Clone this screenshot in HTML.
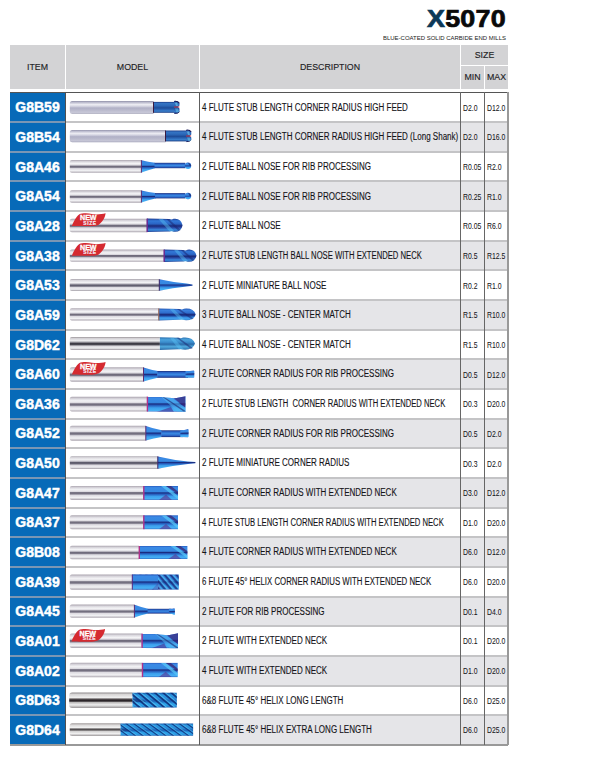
<!DOCTYPE html><html><head><meta charset="utf-8"><style>
*{margin:0;padding:0;box-sizing:border-box}
html,body{width:608px;height:772px;background:#fff;overflow:hidden}
body{position:relative;font-family:"Liberation Sans",sans-serif;color:#222}
.a{position:absolute}
.hd{background:#d3d3d5;}
.ht{position:absolute;font-size:8.8px;color:#1e1e26;-webkit-text-stroke:0.15px #1e1e26;text-align:center;white-space:nowrap;line-height:1}
.code{position:absolute;left:10px;width:55px;color:#fff;font-weight:bold;font-size:14px;text-align:center;line-height:1;white-space:nowrap;-webkit-text-stroke:0.45px #fff}
.desc{position:absolute;left:202px;font-size:10px;line-height:1;white-space:nowrap;transform-origin:0 0;transform:scaleX(0.802);color:#141418;-webkit-text-stroke:0.12px #141418}
.sz{position:absolute;font-size:8.8px;line-height:1;white-space:nowrap;transform-origin:0 0;transform:scaleX(0.78);color:#141418;-webkit-text-stroke:0.05px #141418}
</style></head><body>
<div class="a" style="left:427px;top:7px;font-size:24px;font-weight:bold;line-height:1;white-space:nowrap;letter-spacing:0.2px;transform-origin:0 0;transform:scaleX(1.12);-webkit-text-stroke:0.7px currentColor"><span style="color:#0c3858">X</span><span style="color:#0a0a0a">5070</span></div>
<div class="a" style="left:383px;top:35.3px;font-size:6.2px;transform-origin:0 0;transform:scaleX(0.965);line-height:1;white-space:nowrap;color:#222">BLUE-COATED SOLID CARBIDE END MILLS</div>
<div class="a hd" style="left:10px;top:45px;width:55px;height:44px"></div>
<div class="a hd" style="left:66px;top:45px;width:133px;height:44px"></div>
<div class="a hd" style="left:200px;top:45px;width:260px;height:44px"></div>
<div class="a hd" style="left:461px;top:45px;width:47px;height:20px"></div>
<div class="a hd" style="left:461px;top:66px;width:23px;height:23px"></div>
<div class="a hd" style="left:485px;top:66px;width:23px;height:23px"></div>
<div class="ht" style="left:10px;top:63px;width:55px">ITEM</div>
<div class="ht" style="left:66px;top:63px;width:133px">MODEL</div>
<div class="ht" style="left:200px;top:63px;width:260px">DESCRIPTION</div>
<div class="ht" style="left:461px;top:51px;width:47px">SIZE</div>
<div class="ht" style="left:461px;top:73px;width:23px">MIN</div>
<div class="ht" style="left:485px;top:73px;width:23px">MAX</div>
<div class="a" style="left:10px;top:92.50px;width:55px;height:29.65px;background:#076ab8"></div>
<div class="a" style="left:10px;top:122.15px;width:55px;height:29.65px;background:#076ab8"></div>
<div class="a" style="left:200px;top:122.15px;width:308px;height:29.65px;background:#e5e5e8"></div>
<div class="a" style="left:10px;top:151.80px;width:55px;height:29.65px;background:#076ab8"></div>
<div class="a" style="left:10px;top:181.45px;width:55px;height:29.65px;background:#076ab8"></div>
<div class="a" style="left:200px;top:181.45px;width:308px;height:29.65px;background:#e5e5e8"></div>
<div class="a" style="left:10px;top:211.10px;width:55px;height:29.65px;background:#076ab8"></div>
<div class="a" style="left:10px;top:240.75px;width:55px;height:29.65px;background:#076ab8"></div>
<div class="a" style="left:200px;top:240.75px;width:308px;height:29.65px;background:#e5e5e8"></div>
<div class="a" style="left:10px;top:270.40px;width:55px;height:29.65px;background:#076ab8"></div>
<div class="a" style="left:10px;top:300.05px;width:55px;height:29.65px;background:#076ab8"></div>
<div class="a" style="left:200px;top:300.05px;width:308px;height:29.65px;background:#e5e5e8"></div>
<div class="a" style="left:10px;top:329.70px;width:55px;height:29.65px;background:#076ab8"></div>
<div class="a" style="left:10px;top:359.35px;width:55px;height:29.65px;background:#076ab8"></div>
<div class="a" style="left:200px;top:359.35px;width:308px;height:29.65px;background:#e5e5e8"></div>
<div class="a" style="left:10px;top:389.00px;width:55px;height:29.65px;background:#076ab8"></div>
<div class="a" style="left:10px;top:418.65px;width:55px;height:29.65px;background:#076ab8"></div>
<div class="a" style="left:200px;top:418.65px;width:308px;height:29.65px;background:#e5e5e8"></div>
<div class="a" style="left:10px;top:448.30px;width:55px;height:29.65px;background:#076ab8"></div>
<div class="a" style="left:10px;top:477.95px;width:55px;height:29.65px;background:#076ab8"></div>
<div class="a" style="left:200px;top:477.95px;width:308px;height:29.65px;background:#e5e5e8"></div>
<div class="a" style="left:10px;top:507.60px;width:55px;height:29.65px;background:#076ab8"></div>
<div class="a" style="left:10px;top:537.25px;width:55px;height:29.65px;background:#076ab8"></div>
<div class="a" style="left:200px;top:537.25px;width:308px;height:29.65px;background:#e5e5e8"></div>
<div class="a" style="left:10px;top:566.90px;width:55px;height:29.65px;background:#076ab8"></div>
<div class="a" style="left:10px;top:596.55px;width:55px;height:29.65px;background:#076ab8"></div>
<div class="a" style="left:200px;top:596.55px;width:308px;height:29.65px;background:#e5e5e8"></div>
<div class="a" style="left:10px;top:626.20px;width:55px;height:29.65px;background:#076ab8"></div>
<div class="a" style="left:10px;top:655.85px;width:55px;height:29.65px;background:#076ab8"></div>
<div class="a" style="left:200px;top:655.85px;width:308px;height:29.65px;background:#e5e5e8"></div>
<div class="a" style="left:10px;top:685.50px;width:55px;height:29.65px;background:#076ab8"></div>
<div class="a" style="left:10px;top:715.15px;width:55px;height:29.65px;background:#076ab8"></div>
<div class="a" style="left:200px;top:715.15px;width:308px;height:29.65px;background:#e5e5e8"></div>
<div class="a" style="left:10px;top:92px;width:498px;height:1px;background:#555"></div>
<div class="a" style="left:66px;top:121.15px;width:442px;height:2px;background:#c4c4c6"></div>
<div class="a" style="left:10px;top:121.15px;width:55px;height:2px;background:#7a96b4"></div>
<div class="a" style="left:66px;top:150.80px;width:442px;height:2px;background:#c4c4c6"></div>
<div class="a" style="left:10px;top:150.80px;width:55px;height:2px;background:#7a96b4"></div>
<div class="a" style="left:66px;top:180.45px;width:442px;height:2px;background:#c4c4c6"></div>
<div class="a" style="left:10px;top:180.45px;width:55px;height:2px;background:#7a96b4"></div>
<div class="a" style="left:66px;top:210.10px;width:442px;height:2px;background:#c4c4c6"></div>
<div class="a" style="left:10px;top:210.10px;width:55px;height:2px;background:#7a96b4"></div>
<div class="a" style="left:66px;top:239.75px;width:442px;height:2px;background:#c4c4c6"></div>
<div class="a" style="left:10px;top:239.75px;width:55px;height:2px;background:#7a96b4"></div>
<div class="a" style="left:66px;top:269.40px;width:442px;height:2px;background:#c4c4c6"></div>
<div class="a" style="left:10px;top:269.40px;width:55px;height:2px;background:#7a96b4"></div>
<div class="a" style="left:66px;top:299.05px;width:442px;height:2px;background:#c4c4c6"></div>
<div class="a" style="left:10px;top:299.05px;width:55px;height:2px;background:#7a96b4"></div>
<div class="a" style="left:66px;top:328.70px;width:442px;height:2px;background:#c4c4c6"></div>
<div class="a" style="left:10px;top:328.70px;width:55px;height:2px;background:#7a96b4"></div>
<div class="a" style="left:66px;top:358.35px;width:442px;height:2px;background:#c4c4c6"></div>
<div class="a" style="left:10px;top:358.35px;width:55px;height:2px;background:#7a96b4"></div>
<div class="a" style="left:66px;top:388.00px;width:442px;height:2px;background:#c4c4c6"></div>
<div class="a" style="left:10px;top:388.00px;width:55px;height:2px;background:#7a96b4"></div>
<div class="a" style="left:66px;top:417.65px;width:442px;height:2px;background:#c4c4c6"></div>
<div class="a" style="left:10px;top:417.65px;width:55px;height:2px;background:#7a96b4"></div>
<div class="a" style="left:66px;top:447.30px;width:442px;height:2px;background:#c4c4c6"></div>
<div class="a" style="left:10px;top:447.30px;width:55px;height:2px;background:#7a96b4"></div>
<div class="a" style="left:66px;top:476.95px;width:442px;height:2px;background:#c4c4c6"></div>
<div class="a" style="left:10px;top:476.95px;width:55px;height:2px;background:#7a96b4"></div>
<div class="a" style="left:66px;top:506.60px;width:442px;height:2px;background:#c4c4c6"></div>
<div class="a" style="left:10px;top:506.60px;width:55px;height:2px;background:#7a96b4"></div>
<div class="a" style="left:66px;top:536.25px;width:442px;height:2px;background:#c4c4c6"></div>
<div class="a" style="left:10px;top:536.25px;width:55px;height:2px;background:#7a96b4"></div>
<div class="a" style="left:66px;top:565.90px;width:442px;height:2px;background:#c4c4c6"></div>
<div class="a" style="left:10px;top:565.90px;width:55px;height:2px;background:#7a96b4"></div>
<div class="a" style="left:66px;top:595.55px;width:442px;height:2px;background:#c4c4c6"></div>
<div class="a" style="left:10px;top:595.55px;width:55px;height:2px;background:#7a96b4"></div>
<div class="a" style="left:66px;top:625.20px;width:442px;height:2px;background:#c4c4c6"></div>
<div class="a" style="left:10px;top:625.20px;width:55px;height:2px;background:#7a96b4"></div>
<div class="a" style="left:66px;top:654.85px;width:442px;height:2px;background:#c4c4c6"></div>
<div class="a" style="left:10px;top:654.85px;width:55px;height:2px;background:#7a96b4"></div>
<div class="a" style="left:66px;top:684.50px;width:442px;height:2px;background:#c4c4c6"></div>
<div class="a" style="left:10px;top:684.50px;width:55px;height:2px;background:#7a96b4"></div>
<div class="a" style="left:66px;top:714.15px;width:442px;height:2px;background:#c4c4c6"></div>
<div class="a" style="left:10px;top:714.15px;width:55px;height:2px;background:#7a96b4"></div>
<div class="a" style="left:10px;top:744.30px;width:498px;height:2px;background:#999"></div>
<div class="a" style="left:65px;top:92px;width:1px;height:652.80px;background:#505050"></div>
<div class="a" style="left:199px;top:92px;width:1px;height:652.80px;background:#5e5e5e"></div>
<div class="a" style="left:460px;top:92px;width:1px;height:652.80px;background:#666"></div>
<div class="a" style="left:484px;top:92px;width:1px;height:652.80px;background:#666"></div>
<div class="a" style="left:507px;top:92px;width:2px;height:652.80px;background:#999"></div>
<svg class="a" style="left:0;top:0" width="608" height="772" viewBox="0 0 608 772">
<defs><linearGradient id="sv" x1="0" y1="0" x2="0" y2="1"><stop offset="0" stop-color="#aaa4ae"/><stop offset="0.14" stop-color="#dcdae0"/><stop offset="0.28" stop-color="#f4f4f6"/><stop offset="0.4" stop-color="#dcdae0"/><stop offset="0.48" stop-color="#6e6a7a"/><stop offset="0.57" stop-color="#787484"/><stop offset="0.67" stop-color="#dedce2"/><stop offset="0.84" stop-color="#f2f2f4"/><stop offset="1" stop-color="#a8a2ac"/></linearGradient><linearGradient id="svb" x1="0" y1="0" x2="0" y2="1"><stop offset="0" stop-color="#a8a4ac"/><stop offset="0.12" stop-color="#dddbe0"/><stop offset="0.3" stop-color="#f3f3f5"/><stop offset="0.42" stop-color="#b4b2bc"/><stop offset="0.5" stop-color="#5a5868"/><stop offset="0.6" stop-color="#6a6878"/><stop offset="0.7" stop-color="#dcdae0"/><stop offset="0.86" stop-color="#efeff2"/><stop offset="1" stop-color="#a4a0a8"/></linearGradient><linearGradient id="svd" x1="0" y1="0" x2="0" y2="1"><stop offset="0" stop-color="#9a9498"/><stop offset="0.12" stop-color="#d6d4d8"/><stop offset="0.3" stop-color="#eeeef0"/><stop offset="0.42" stop-color="#8a8890"/><stop offset="0.5" stop-color="#3e3c46"/><stop offset="0.6" stop-color="#4a4852"/><stop offset="0.7" stop-color="#d8d6dc"/><stop offset="0.86" stop-color="#efeff1"/><stop offset="1" stop-color="#9e98a0"/></linearGradient><linearGradient id="sv2" x1="0" y1="0" x2="0" y2="1"><stop offset="0" stop-color="#8e8ea6"/><stop offset="0.1" stop-color="#b8b8cc"/><stop offset="0.28" stop-color="#ececf2"/><stop offset="0.4" stop-color="#d8d8e4"/><stop offset="0.55" stop-color="#b0b0c6"/><stop offset="0.75" stop-color="#bcbcce"/><stop offset="0.9" stop-color="#c8c8d8"/><stop offset="1" stop-color="#9c9cb2"/></linearGradient><linearGradient id="sv3" x1="0" y1="0" x2="0" y2="1"><stop offset="0" stop-color="#8e8a8c"/><stop offset="0.12" stop-color="#d8d6d6"/><stop offset="0.32" stop-color="#eeeeee"/><stop offset="0.42" stop-color="#6a6466"/><stop offset="0.48" stop-color="#2a2428"/><stop offset="0.56" stop-color="#2e282c"/><stop offset="0.64" stop-color="#bcbaba"/><stop offset="0.8" stop-color="#f0f0f0"/><stop offset="1" stop-color="#9a9698"/></linearGradient><linearGradient id="sv4" x1="0" y1="0" x2="0" y2="1"><stop offset="0" stop-color="#9a9494"/><stop offset="0.15" stop-color="#dcdada"/><stop offset="0.35" stop-color="#f2f2f2"/><stop offset="0.46" stop-color="#5a5658"/><stop offset="0.54" stop-color="#4a4648"/><stop offset="0.62" stop-color="#d0cece"/><stop offset="0.82" stop-color="#f0f0f0"/><stop offset="1" stop-color="#a09c9e"/></linearGradient><linearGradient id="bl" x1="0" y1="0" x2="0" y2="1"><stop offset="0" stop-color="#2050ac"/><stop offset="0.15" stop-color="#3a80de"/><stop offset="0.38" stop-color="#2e6ccc"/><stop offset="0.5" stop-color="#1a2e80"/><stop offset="0.6" stop-color="#1c3c92"/><stop offset="0.76" stop-color="#3890e6"/><stop offset="0.9" stop-color="#46a6ee"/><stop offset="1" stop-color="#2456ac"/></linearGradient><linearGradient id="blt" x1="0" y1="0" x2="0" y2="1"><stop offset="0" stop-color="#1a3488"/><stop offset="0.2" stop-color="#2a64c8"/><stop offset="0.4" stop-color="#3a8ae0"/><stop offset="0.5" stop-color="#1a2c7a"/><stop offset="0.62" stop-color="#2a62c2"/><stop offset="0.82" stop-color="#3a8ee4"/><stop offset="1" stop-color="#1c3a8e"/></linearGradient><linearGradient id="blc" x1="0" y1="0" x2="0" y2="1"><stop offset="0" stop-color="#2a70b0"/><stop offset="0.2" stop-color="#4aa2dc"/><stop offset="0.4" stop-color="#3a8ccc"/><stop offset="0.55" stop-color="#2a6aa8"/><stop offset="0.75" stop-color="#50aade"/><stop offset="1" stop-color="#2a6aa8"/></linearGradient><linearGradient id="blf" x1="0" y1="0" x2="0" y2="1"><stop offset="0" stop-color="#2a5ec0"/><stop offset="0.12" stop-color="#3a8ae6"/><stop offset="0.4" stop-color="#3688e0"/><stop offset="0.5" stop-color="#1a2c80"/><stop offset="0.58" stop-color="#2458b8"/><stop offset="0.75" stop-color="#3ca0ee"/><stop offset="0.92" stop-color="#48b0f4"/><stop offset="1" stop-color="#2a64c0"/></linearGradient><linearGradient id="bln" x1="0" y1="0" x2="0" y2="1"><stop offset="0" stop-color="#1a2c78"/><stop offset="0.22" stop-color="#2a64c8"/><stop offset="0.5" stop-color="#3a8ae2"/><stop offset="0.78" stop-color="#2a62c4"/><stop offset="1" stop-color="#1a2c78"/></linearGradient><linearGradient id="blh" x1="0" y1="0" x2="0" y2="1"><stop offset="0" stop-color="#1a3c88"/><stop offset="0.15" stop-color="#3474c4"/><stop offset="0.35" stop-color="#2c68b8"/><stop offset="0.55" stop-color="#1e4c98"/><stop offset="0.7" stop-color="#2a64b4"/><stop offset="0.85" stop-color="#3a80cc"/><stop offset="1" stop-color="#1a3a80"/></linearGradient><linearGradient id="blb" x1="0" y1="0" x2="0" y2="1"><stop offset="0" stop-color="#1c3a90"/><stop offset="0.18" stop-color="#3278d8"/><stop offset="0.4" stop-color="#2a64c4"/><stop offset="0.55" stop-color="#1a2a78"/><stop offset="0.68" stop-color="#2a4aa8"/><stop offset="0.85" stop-color="#3a8ee0"/><stop offset="1" stop-color="#1c3a90"/></linearGradient><linearGradient id="bl2" x1="0" y1="0" x2="0" y2="1"><stop offset="0" stop-color="#1a5aac"/><stop offset="0.15" stop-color="#2a96e0"/><stop offset="0.4" stop-color="#2a8cd8"/><stop offset="0.55" stop-color="#1c62b8"/><stop offset="0.75" stop-color="#30a4ea"/><stop offset="0.9" stop-color="#2a96e0"/><stop offset="1" stop-color="#1a5aac"/></linearGradient></defs>
<path d="M72.30,101.00 L153.50,101.00 L153.50,113.70 L72.30,113.70 Q69.80,113.70 69.80,111.20 L69.80,103.50 Q69.80,101.00 72.30,101.00 Z" fill="url(#sv2)"/>
<rect x="153.3" y="101.9" width="21" height="10.9" fill="url(#blh)"/>
<path d="M174,101.1 Q178,101 179.5,103 L179.5,105.5 L177.8,107 L179.5,108.5 L179.5,112 Q178,113.8 174,113.6 Z" fill="url(#blh)"/>
<path d="M174.5,101.3 Q178,101 179.3,103.2" fill="none" stroke="#1a1a5a" stroke-width="1.1"/>
<path d="M174.5,113.4 Q178,113.8 179.3,111.8" fill="none" stroke="#1a1a5a" stroke-width="0.9"/>
<rect x="153.00" y="101.90" width="1.0" height="10.90" fill="#3a1a40"/>
<path d="M174.00,106.60 L179.30,106.40 L179.30,107.40 L174.00,107.60 Z" fill="#c83040" />
<path d="M175.00,103.00 L177.00,102.50 L178.00,106.00 L176.00,106.00 Z" fill="#6fd0f0" opacity="0.6"/>
<path d="M175.00,108.50 L178.00,108.50 L179.00,112.00 L176.50,112.50 Z" fill="#6fd0f0" opacity="0.5"/>
<path d="M72.30,129.90 L165.50,129.90 L165.50,142.30 L72.30,142.30 Q69.80,142.30 69.80,139.80 L69.80,132.40 Q69.80,129.90 72.30,129.90 Z" fill="url(#sv2)"/>
<rect x="165.3" y="130.5" width="20.7" height="10.9" fill="url(#blh)"/>
<path d="M186,129.9 Q190,129.8 191.3,131.8 L191.3,134.5 L189.6,136 L191.3,137.5 L191.3,140 Q190,141.8 186,141.8 Z" fill="url(#blh)"/>
<path d="M186.5,130.1 Q190,129.8 191.1,132" fill="none" stroke="#1a1a5a" stroke-width="1.1"/>
<path d="M186.5,141.6 Q190,141.8 191.1,139.8" fill="none" stroke="#1a1a5a" stroke-width="0.9"/>
<rect x="165.00" y="130.50" width="1.0" height="10.90" fill="#3a1a40"/>
<path d="M186.00,135.60 L191.10,135.40 L191.10,136.40 L186.00,136.60 Z" fill="#c83040" />
<path d="M187.00,131.80 L189.00,131.40 L190.00,135.00 L188.00,135.00 Z" fill="#6fd0f0" opacity="0.6"/>
<path d="M187.00,137.50 L190.00,137.50 L191.00,141.00 L188.50,141.30 Z" fill="#6fd0f0" opacity="0.5"/>
<path d="M71.80,160.00 L141.40,160.00 L141.40,172.80 L71.80,172.80 Q69.80,172.80 69.80,170.80 L69.80,162.00 Q69.80,160.00 71.80,160.00 Z" fill="url(#sv)"/>
<path d="M141.40,160.20 Q148.20,161.81 155.00,162.80 L155.00,168.20 Q148.20,169.87 141.40,172.60 Z" fill="url(#blf)"/><rect x="154.50" y="162.80" width="30.80" height="5.40" fill="url(#bln)"/><ellipse cx="188.00" cy="165.80" rx="3.20" ry="3.20" fill="url(#blf)"/><path d="M188.00,162.90 A3.20,3.20 0 0 1 191.20,165.80 L189.70,165.80 Z" fill="#1a2470" opacity="0.75"/><rect x="140.90" y="160.20" width="1.0" height="12.40" fill="#5a2a70"/>
<path d="M71.80,190.30 L141.40,190.30 L141.40,202.70 L71.80,202.70 Q69.80,202.70 69.80,200.70 L69.80,192.30 Q69.80,190.30 71.80,190.30 Z" fill="url(#sv)"/>
<path d="M141.40,190.50 Q148.45,192.11 155.50,193.10 L155.50,198.40 Q148.45,199.96 141.40,202.50 Z" fill="url(#blf)"/><rect x="155.00" y="193.10" width="30.30" height="5.30" fill="url(#bln)"/><ellipse cx="188.00" cy="196.00" rx="3.20" ry="3.20" fill="url(#blf)"/><path d="M188.00,193.10 A3.20,3.20 0 0 1 191.20,196.00 L189.70,196.00 Z" fill="#1a2470" opacity="0.75"/><rect x="140.90" y="190.50" width="1.0" height="12.00" fill="#5a2a70"/>
<path d="M71.80,218.80 L147.00,218.80 L147.00,232.20 L71.80,232.20 Q69.80,232.20 69.80,230.20 L69.80,220.80 Q69.80,218.80 71.80,218.80 Z" fill="url(#sv)"/>
<path d="M147.00,218.50 L169.60,219.10 Q171.60,220.00 173.60,218.80 Q181.10,217.90 182.60,225.25 Q181.10,232.60 173.60,231.70 Q171.60,230.50 169.60,231.40 L147.00,232.00 Z" fill="url(#blb)"/><path d="M158.52,219.10 L162.87,219.10 L174.60,231.50 L169.60,231.50 Z" fill="#58c0f4" opacity="0.45"/><path d="M166.20,219.10 L168.76,219.10 L180.60,230.00 L178.60,231.00 Z" fill="#1a2470" opacity="0.5"/>
<rect x="146.45" y="218.60" width="1.5" height="13.50" fill="#6a2a90"/>
<path transform="translate(71,213)" d="M0.8,12.9 C2.5,9 5,3.5 8.4,1.2 C11,0 17,-0.2 21,1 C26,2 31,1 34.6,0.3 C34.2,3.5 32.5,8.5 27.4,11.9 C23,13.5 19,13 15,13 C9,13.2 4,12.8 0.8,12.9 Z" fill="#d52a30"/><text x="88.3" y="220.2" font-family="Liberation Sans" font-weight="bold" font-size="7.1" fill="#fff" stroke="#fff" stroke-width="0.3" text-anchor="middle">NEW</text><text x="90" y="224.6" font-family="Liberation Sans" font-weight="bold" font-size="4.9" fill="#f4ecf6" stroke="#f4ecf6" stroke-width="0.2" text-anchor="middle" letter-spacing="0.6">SIZE</text>
<path d="M71.80,249.60 L164.00,249.60 L164.00,261.80 L71.80,261.80 Q69.80,261.80 69.80,259.80 L69.80,251.60 Q69.80,249.60 71.80,249.60 Z" fill="url(#sv)"/>
<path d="M164.00,249.40 L183.50,250.00 Q185.50,250.90 187.50,249.70 Q195.00,248.80 196.50,255.70 Q195.00,262.60 187.50,261.70 Q185.50,260.50 183.50,261.40 L164.00,262.00 Z" fill="url(#blb)"/><path d="M174.12,250.00 L177.95,250.00 L188.50,261.50 L183.50,261.50 Z" fill="#58c0f4" opacity="0.45"/><path d="M180.88,250.00 L183.12,250.00 L194.50,260.00 L192.50,261.00 Z" fill="#1a2470" opacity="0.5"/>
<rect x="163.45" y="249.60" width="1.5" height="12.20" fill="#6a2a90"/>
<path transform="translate(71,242.8)" d="M0.8,12.9 C2.5,9 5,3.5 8.4,1.2 C11,0 17,-0.2 21,1 C26,2 31,1 34.6,0.3 C34.2,3.5 32.5,8.5 27.4,11.9 C23,13.5 19,13 15,13 C9,13.2 4,12.8 0.8,12.9 Z" fill="#d52a30"/><text x="88.3" y="250.0" font-family="Liberation Sans" font-weight="bold" font-size="7.1" fill="#fff" stroke="#fff" stroke-width="0.3" text-anchor="middle">NEW</text><text x="90" y="254.4" font-family="Liberation Sans" font-weight="bold" font-size="4.9" fill="#f4ecf6" stroke="#f4ecf6" stroke-width="0.2" text-anchor="middle" letter-spacing="0.6">SIZE</text>
<path d="M71.80,279.10 L159.30,279.10 L159.30,290.90 L71.80,290.90 Q69.80,290.90 69.80,288.90 L69.80,281.10 Q69.80,279.10 71.80,279.10 Z" fill="url(#svb)"/>
<path d="M159.30,279.30 Q172.95,282.31 186.60,283.60 L192.50,284.40 L192.50,285.70 L186.60,286.50 Q172.95,287.76 159.30,290.70 Z" fill="url(#blf)"/><rect x="158.80" y="279.30" width="1.0" height="11.40" fill="#3a2060"/>
<path d="M71.80,308.20 L158.60,308.20 L158.60,320.50 L71.80,320.50 Q69.80,320.50 69.80,318.50 L69.80,310.20 Q69.80,308.20 71.80,308.20 Z" fill="url(#sv)"/>
<path d="M158.60,308.40 L180.00,309.00 Q182.00,309.90 184.00,308.70 Q193.79,307.80 195.70,314.40 Q193.79,321.00 184.00,320.10 Q182.00,318.90 180.00,319.80 L158.60,320.40 Z" fill="url(#bl)"/><path d="M169.58,309.00 L173.73,309.00 L185.00,319.90 L180.00,319.90 Z" fill="#58c0f4" opacity="0.45"/><path d="M176.90,309.00 L179.34,309.00 L193.70,318.40 L191.70,319.40 Z" fill="#1a2470" opacity="0.5"/>
<rect x="158.30" y="308.40" width="1.0" height="12.00" fill="#a06040"/>
<path d="M71.80,337.00 L159.90,337.00 L159.90,349.90 L71.80,349.90 Q69.80,349.90 69.80,347.90 L69.80,339.00 Q69.80,337.00 71.80,337.00 Z" fill="url(#svd)"/>
<path d="M159.90,337.20 L179.00,337.80 Q181.00,338.70 183.00,337.50 Q193.05,336.60 195.00,343.55 Q193.05,350.50 183.00,349.60 Q181.00,348.40 179.00,349.30 L159.90,349.90 Z" fill="url(#blc)"/><path d="M169.84,337.80 L173.60,337.80 L184.00,349.40 L179.00,349.40 Z" fill="#58c0f4" opacity="0.45"/><path d="M176.47,337.80 L178.69,337.80 L193.00,347.90 L191.00,348.90 Z" fill="#1a2470" opacity="0.5"/>
<path d="M71.80,367.20 L143.50,367.20 L143.50,381.70 L71.80,381.70 Q69.80,381.70 69.80,379.70 L69.80,369.20 Q69.80,367.20 71.80,367.20 Z" fill="url(#sv)"/>
<path d="M143.50,367.40 Q150.65,369.63 157.80,371.00 L157.80,377.80 Q150.65,379.21 143.50,381.50 Z" fill="url(#blf)"/><rect x="157.30" y="371.00" width="30.70" height="6.80" fill="url(#bln)"/><path d="M185.50,371.00 Q189.88,371.00 193.70,370.40 L194.30,371.00 L194.30,377.20 L193.70,377.80 Q189.88,377.80 185.50,377.80 Z" fill="url(#blf)"/><path d="M186.50,373.60 L194.30,373.10 L194.30,374.30 L186.50,374.60 Z" fill="#1a2470" opacity="0.55"/><rect x="143.00" y="367.40" width="1.0" height="14.10" fill="#5a2a70"/>
<path transform="translate(71,361.7)" d="M0.8,12.9 C2.5,9 5,3.5 8.4,1.2 C11,0 17,-0.2 21,1 C26,2 31,1 34.6,0.3 C34.2,3.5 32.5,8.5 27.4,11.9 C23,13.5 19,13 15,13 C9,13.2 4,12.8 0.8,12.9 Z" fill="#d52a30"/><text x="88.3" y="368.9" font-family="Liberation Sans" font-weight="bold" font-size="7.1" fill="#fff" stroke="#fff" stroke-width="0.3" text-anchor="middle">NEW</text><text x="90" y="373.3" font-family="Liberation Sans" font-weight="bold" font-size="4.9" fill="#f4ecf6" stroke="#f4ecf6" stroke-width="0.2" text-anchor="middle" letter-spacing="0.6">SIZE</text>
<path d="M71.80,396.80 L147.00,396.80 L147.00,411.60 L71.80,411.60 Q69.80,411.60 69.80,409.60 L69.80,398.80 Q69.80,396.80 71.80,396.80 Z" fill="url(#sv)"/>
<path d="M147.00,397.00 L161.25,397.00 Q174.72,398.80 177.80,397.80 L185.50,396.20 L185.50,411.80 L147.00,411.50 Z" fill="url(#blf)"/><clipPath id="c10"><path d="M147.00,397.00 L161.25,397.00 Q174.72,398.80 177.80,397.80 L185.50,396.20 L185.50,411.80 L147.00,411.50 Z"/></clipPath><path d="M160.86,396.60 L170.10,396.60 L187.50,409.26 L185.50,412.50 L177.80,412.50 Z" fill="#52b8f4" opacity="0.55" clip-path="url(#c10)"/><path d="M161.63,396.60 L163.56,396.60 L186.50,411.50 L183.57,411.50 Z" fill="#1a2470" opacity="0.6" clip-path="url(#c10)"/><path d="M156.62,412.00 L170.87,407.03 L173.95,412.00 Z" fill="#4a2a90" opacity="0.6" clip-path="url(#c10)"/><path d="M173.18,397.80 L185.50,396.10 L185.50,407.77 Z" fill="#3a1c70" opacity="0.65" clip-path="url(#c10)"/><rect x="146.70" y="396.60" width="1.4" height="14.90" fill="#b0308a"/>
<path d="M71.80,425.70 L145.80,425.70 L145.80,440.70 L71.80,440.70 Q69.80,440.70 69.80,438.70 L69.80,427.70 Q69.80,425.70 71.80,425.70 Z" fill="url(#sv)"/>
<path d="M145.80,425.90 Q153.80,428.63 161.80,430.30 L161.80,437.10 Q153.80,438.39 145.80,440.50 Z" fill="url(#blf)"/><rect x="161.30" y="430.30" width="21.50" height="6.80" fill="url(#bln)"/><path d="M180.30,430.30 Q184.50,430.30 188.00,429.10 L188.60,429.70 L188.60,436.70 L188.00,437.30 Q184.50,437.10 180.30,437.10 Z" fill="url(#blf)"/><path d="M181.30,432.70 L188.60,432.20 L188.60,433.40 L181.30,433.70 Z" fill="#1a2470" opacity="0.55"/><rect x="145.30" y="425.90" width="1.0" height="14.60" fill="#5a2a70"/>
<path d="M71.80,456.20 L157.80,456.20 L157.80,468.90 L71.80,468.90 Q69.80,468.90 69.80,466.90 L69.80,458.20 Q69.80,456.20 71.80,456.20 Z" fill="url(#svb)"/>
<path d="M157.80,456.40 Q172.90,459.90 188.00,461.40 L195.40,461.90 L195.40,463.30 L188.00,463.90 Q172.90,465.34 157.80,468.70 Z" fill="url(#blf)"/><rect x="157.30" y="456.40" width="1.0" height="12.30" fill="#3a2060"/>
<path d="M71.80,485.90 L143.50,485.90 L143.50,499.90 L71.80,499.90 Q69.80,499.90 69.80,497.90 L69.80,487.90 Q69.80,485.90 71.80,485.90 Z" fill="url(#sv)"/>
<rect x="143.50" y="486.00" width="34.50" height="13.90" fill="url(#blf)"/><clipPath id="c13"><rect x="143.50" y="486.00" width="34.50" height="13.90"/></clipPath><path d="M161.00,486.00 L166.00,486.00 L179.00,496.90 L179.00,499.90 Z" fill="#58c8f8" opacity="0.75" clip-path="url(#c13)"/><path d="M166.00,486.00 L171.00,486.00 L179.00,492.25 L179.00,494.62 Z" fill="#3a1c6a" opacity="0.7" clip-path="url(#c13)"/><path d="M159.00,499.90 L166.00,494.62 L172.00,499.90 Z" fill="#5a3090" opacity="0.6" clip-path="url(#c13)"/><rect x="143.10" y="486.00" width="1.4" height="13.90" fill="#b0308a"/>
<path d="M71.80,515.30 L143.50,515.30 L143.50,529.20 L71.80,529.20 Q69.80,529.20 69.80,527.20 L69.80,517.30 Q69.80,515.30 71.80,515.30 Z" fill="url(#sv)"/>
<rect x="143.50" y="515.30" width="34.50" height="13.90" fill="url(#blf)"/><clipPath id="c14"><rect x="143.50" y="515.30" width="34.50" height="13.90"/></clipPath><path d="M161.00,515.30 L166.00,515.30 L179.00,526.20 L179.00,529.20 Z" fill="#58c8f8" opacity="0.75" clip-path="url(#c14)"/><path d="M166.00,515.30 L171.00,515.30 L179.00,521.55 L179.00,523.92 Z" fill="#3a1c6a" opacity="0.7" clip-path="url(#c14)"/><path d="M159.00,529.20 L166.00,523.92 L172.00,529.20 Z" fill="#5a3090" opacity="0.6" clip-path="url(#c14)"/><rect x="143.10" y="515.30" width="1.4" height="13.90" fill="#b0308a"/>
<path d="M71.80,545.80 L139.00,545.80 L139.00,559.20 L71.80,559.20 Q69.80,559.20 69.80,557.20 L69.80,547.80 Q69.80,545.80 71.80,545.80 Z" fill="url(#sv)"/>
<rect x="139.00" y="546.00" width="48.40" height="13.00" fill="url(#blf)"/><clipPath id="c15"><rect x="139.00" y="546.00" width="48.40" height="13.00"/></clipPath><path d="M170.40,546.00 L175.40,546.00 L188.40,556.00 L188.40,559.00 Z" fill="#58c8f8" opacity="0.75" clip-path="url(#c15)"/><path d="M175.40,546.00 L180.40,546.00 L188.40,551.85 L188.40,554.06 Z" fill="#3a1c6a" opacity="0.7" clip-path="url(#c15)"/><path d="M168.40,559.00 L175.40,554.06 L181.40,559.00 Z" fill="#5a3090" opacity="0.6" clip-path="url(#c15)"/><rect x="138.60" y="546.00" width="1.4" height="13.00" fill="#b0308a"/>
<path d="M71.80,574.50 L132.00,574.50 L132.00,589.70 L71.80,589.70 Q69.80,589.70 69.80,587.70 L69.80,576.50 Q69.80,574.50 71.80,574.50 Z" fill="url(#sv)"/>
<rect x="132" y="574.6" width="46.7" height="14.9" fill="url(#blf)"/>
<clipPath id="c16"><path d="M132,574.6 L178.7,574.6 L178.7,589.5 L132,589.5 Z"/></clipPath>
<path d="M158.00,589.50 L159.50,574.60 L180.00,574.60 L180.00,589.50 Z" fill="#2a78d0" opacity="0.5" clip-path="url(#c16)"/>
<path d="M133.00,574.60 L135.40,574.60 L148.40,589.50 L146.00,589.50 Z" fill="#1a2470" opacity="0.7" clip-path="url(#c16)"/><path d="M139.00,574.60 L141.40,574.60 L154.40,589.50 L152.00,589.50 Z" fill="#1a2470" opacity="0.7" clip-path="url(#c16)"/><path d="M145.00,574.60 L147.40,574.60 L160.40,589.50 L158.00,589.50 Z" fill="#1a2470" opacity="0.7" clip-path="url(#c16)"/><path d="M151.00,574.60 L153.40,574.60 L166.40,589.50 L164.00,589.50 Z" fill="#1a2470" opacity="0.7" clip-path="url(#c16)"/><path d="M157.00,574.60 L159.40,574.60 L172.40,589.50 L170.00,589.50 Z" fill="#1a2470" opacity="0.7" clip-path="url(#c16)"/><path d="M163.00,574.60 L165.40,574.60 L178.40,589.50 L176.00,589.50 Z" fill="#1a2470" opacity="0.7" clip-path="url(#c16)"/><path d="M169.00,574.60 L171.40,574.60 L184.40,589.50 L182.00,589.50 Z" fill="#1a2470" opacity="0.7" clip-path="url(#c16)"/><path d="M175.00,574.60 L177.40,574.60 L190.40,589.50 L188.00,589.50 Z" fill="#1a2470" opacity="0.7" clip-path="url(#c16)"/><path d="M181.00,574.60 L183.40,574.60 L196.40,589.50 L194.00,589.50 Z" fill="#1a2470" opacity="0.7" clip-path="url(#c16)"/>
<path d="M136.00,574.60 L137.60,574.60 L150.60,589.50 L149.00,589.50 Z" fill="#60d0f8" opacity="0.6" clip-path="url(#c16)"/><path d="M142.00,574.60 L143.60,574.60 L156.60,589.50 L155.00,589.50 Z" fill="#60d0f8" opacity="0.6" clip-path="url(#c16)"/><path d="M148.00,574.60 L149.60,574.60 L162.60,589.50 L161.00,589.50 Z" fill="#60d0f8" opacity="0.6" clip-path="url(#c16)"/><path d="M154.00,574.60 L155.60,574.60 L168.60,589.50 L167.00,589.50 Z" fill="#60d0f8" opacity="0.6" clip-path="url(#c16)"/><path d="M160.00,574.60 L161.60,574.60 L174.60,589.50 L173.00,589.50 Z" fill="#60d0f8" opacity="0.6" clip-path="url(#c16)"/><path d="M166.00,574.60 L167.60,574.60 L180.60,589.50 L179.00,589.50 Z" fill="#60d0f8" opacity="0.6" clip-path="url(#c16)"/><path d="M172.00,574.60 L173.60,574.60 L186.60,589.50 L185.00,589.50 Z" fill="#60d0f8" opacity="0.6" clip-path="url(#c16)"/><path d="M178.00,574.60 L179.60,574.60 L192.60,589.50 L191.00,589.50 Z" fill="#60d0f8" opacity="0.6" clip-path="url(#c16)"/>
<rect x="132" y="574.6" width="26" height="14.9" fill="url(#blf)"/>
<path d="M152.00,589.50 L158.00,583.00 L161.00,589.50 Z" fill="#5a3090" opacity="0.3"/>
<rect x="131.80" y="574.60" width="1.0" height="14.90" fill="#5a2a80"/>
<path d="M71.80,604.60 L134.40,604.60 L134.40,617.80 L71.80,617.80 Q69.80,617.80 69.80,615.80 L69.80,606.60 Q69.80,604.60 71.80,604.60 Z" fill="url(#sv)"/>
<path d="M134.40,604.80 Q141.25,607.28 148.10,608.80 L148.10,613.60 Q141.25,615.12 134.40,617.60 Z" fill="url(#blf)"/><rect x="147.60" y="608.80" width="23.80" height="4.80" fill="url(#bln)"/><path d="M168.90,608.80 Q172.30,608.80 174.30,608.30 L174.90,608.90 L174.90,614.50 L174.30,615.10 Q172.30,613.60 168.90,613.60 Z" fill="url(#blf)"/><path d="M169.90,611.20 L174.90,610.70 L174.90,611.90 L169.90,612.20 Z" fill="#1a2470" opacity="0.55"/><rect x="133.90" y="604.80" width="1.0" height="12.80" fill="#5a2a70"/>
<path d="M71.80,633.40 L141.70,633.40 L141.70,647.90 L71.80,647.90 Q69.80,647.90 69.80,645.90 L69.80,635.40 Q69.80,633.40 71.80,633.40 Z" fill="url(#sv)"/>
<path d="M141.70,634.00 L155.13,634.00 Q167.84,635.80 170.74,634.80 L178.00,633.20 L178.00,648.20 L141.70,647.90 Z" fill="url(#blf)"/><clipPath id="c18"><path d="M141.70,634.00 L155.13,634.00 Q167.84,635.80 170.74,634.80 L178.00,633.20 L178.00,648.20 L141.70,647.90 Z"/></clipPath><path d="M154.77,633.60 L163.48,633.60 L180.00,645.75 L178.00,648.90 L170.74,648.90 Z" fill="#52b8f4" opacity="0.55" clip-path="url(#c18)"/><path d="M155.49,633.60 L157.31,633.60 L179.00,647.90 L176.19,647.90 Z" fill="#1a2470" opacity="0.6" clip-path="url(#c18)"/><path d="M150.77,648.40 L164.21,643.61 L167.11,648.40 Z" fill="#4a2a90" opacity="0.6" clip-path="url(#c18)"/><path d="M166.38,634.80 L178.00,633.10 L178.00,644.33 Z" fill="#3a1c70" opacity="0.65" clip-path="url(#c18)"/><rect x="141.40" y="633.60" width="1.4" height="14.30" fill="#b0308a"/>
<path transform="translate(70.5,628.7)" d="M0.8,12.9 C2.5,9 5,3.5 8.4,1.2 C11,0 17,-0.2 21,1 C26,2 31,1 34.6,0.3 C34.2,3.5 32.5,8.5 27.4,11.9 C23,13.5 19,13 15,13 C9,13.2 4,12.8 0.8,12.9 Z" fill="#d52a30"/><text x="87.8" y="635.9000000000001" font-family="Liberation Sans" font-weight="bold" font-size="7.1" fill="#fff" stroke="#fff" stroke-width="0.3" text-anchor="middle">NEW</text><text x="89.5" y="640.3000000000001" font-family="Liberation Sans" font-weight="bold" font-size="4.9" fill="#f4ecf6" stroke="#f4ecf6" stroke-width="0.2" text-anchor="middle" letter-spacing="0.6">SIZE</text>
<path d="M71.80,662.70 L142.20,662.70 L142.20,677.30 L71.80,677.30 Q69.80,677.30 69.80,675.30 L69.80,664.70 Q69.80,662.70 71.80,662.70 Z" fill="url(#sv)"/>
<rect x="142.20" y="662.90" width="35.50" height="14.20" fill="url(#blf)"/><clipPath id="c19"><rect x="142.20" y="662.90" width="35.50" height="14.20"/></clipPath><path d="M160.70,662.90 L165.70,662.90 L178.70,674.10 L178.70,677.10 Z" fill="#58c8f8" opacity="0.75" clip-path="url(#c19)"/><path d="M165.70,662.90 L170.70,662.90 L178.70,669.29 L178.70,671.70 Z" fill="#3a1c6a" opacity="0.7" clip-path="url(#c19)"/><path d="M158.70,677.10 L165.70,671.70 L171.70,677.10 Z" fill="#5a3090" opacity="0.6" clip-path="url(#c19)"/><rect x="141.80" y="662.90" width="1.4" height="14.20" fill="#b0308a"/>
<path d="M72.20,692.60 L132.50,692.60 L132.50,707.90 L72.20,707.90 Q69.20,707.90 69.20,704.90 L69.20,695.60 Q69.20,692.60 72.20,692.60 Z" fill="url(#sv3)"/>
<path d="M132.50,692.80 L176.80,692.80 L176.80,707.60 L132.50,707.60 Z" fill="url(#bl2)" />
<clipPath id="c20"><rect x="132.5" y="692.6" width="44.3" height="15"/></clipPath>
<path d="M132.50,698.50 L140.00,698.50 L146.00,702.00 L132.50,702.00 Z" fill="#14307a" opacity="0.6"/>
<path d="M104.00,692.60 L106.80,692.60 L124.80,707.60 L122.00,707.60 Z" fill="#10307a" opacity="0.9" clip-path="url(#c20)"/><path d="M112.20,692.60 L115.00,692.60 L133.00,707.60 L130.20,707.60 Z" fill="#10307a" opacity="0.9" clip-path="url(#c20)"/><path d="M120.40,692.60 L123.20,692.60 L141.20,707.60 L138.40,707.60 Z" fill="#10307a" opacity="0.9" clip-path="url(#c20)"/><path d="M128.60,692.60 L131.40,692.60 L149.40,707.60 L146.60,707.60 Z" fill="#10307a" opacity="0.9" clip-path="url(#c20)"/><path d="M136.80,692.60 L139.60,692.60 L157.60,707.60 L154.80,707.60 Z" fill="#10307a" opacity="0.9" clip-path="url(#c20)"/><path d="M145.00,692.60 L147.80,692.60 L165.80,707.60 L163.00,707.60 Z" fill="#10307a" opacity="0.9" clip-path="url(#c20)"/><path d="M153.20,692.60 L156.00,692.60 L174.00,707.60 L171.20,707.60 Z" fill="#10307a" opacity="0.9" clip-path="url(#c20)"/><path d="M161.40,692.60 L164.20,692.60 L182.20,707.60 L179.40,707.60 Z" fill="#10307a" opacity="0.9" clip-path="url(#c20)"/><path d="M169.60,692.60 L172.40,692.60 L190.40,707.60 L187.60,707.60 Z" fill="#10307a" opacity="0.9" clip-path="url(#c20)"/><path d="M177.80,692.60 L180.60,692.60 L198.60,707.60 L195.80,707.60 Z" fill="#10307a" opacity="0.9" clip-path="url(#c20)"/>
<path d="M107.00,692.60 L108.60,692.60 L126.60,707.60 L125.00,707.60 Z" fill="#60d0f8" opacity="0.6" clip-path="url(#c20)"/><path d="M115.20,692.60 L116.80,692.60 L134.80,707.60 L133.20,707.60 Z" fill="#60d0f8" opacity="0.6" clip-path="url(#c20)"/><path d="M123.40,692.60 L125.00,692.60 L143.00,707.60 L141.40,707.60 Z" fill="#60d0f8" opacity="0.6" clip-path="url(#c20)"/><path d="M131.60,692.60 L133.20,692.60 L151.20,707.60 L149.60,707.60 Z" fill="#60d0f8" opacity="0.6" clip-path="url(#c20)"/><path d="M139.80,692.60 L141.40,692.60 L159.40,707.60 L157.80,707.60 Z" fill="#60d0f8" opacity="0.6" clip-path="url(#c20)"/><path d="M148.00,692.60 L149.60,692.60 L167.60,707.60 L166.00,707.60 Z" fill="#60d0f8" opacity="0.6" clip-path="url(#c20)"/><path d="M156.20,692.60 L157.80,692.60 L175.80,707.60 L174.20,707.60 Z" fill="#60d0f8" opacity="0.6" clip-path="url(#c20)"/><path d="M164.40,692.60 L166.00,692.60 L184.00,707.60 L182.40,707.60 Z" fill="#60d0f8" opacity="0.6" clip-path="url(#c20)"/><path d="M172.60,692.60 L174.20,692.60 L192.20,707.60 L190.60,707.60 Z" fill="#60d0f8" opacity="0.6" clip-path="url(#c20)"/><path d="M180.80,692.60 L182.40,692.60 L200.40,707.60 L198.80,707.60 Z" fill="#60d0f8" opacity="0.6" clip-path="url(#c20)"/>
<path d="M72.20,723.20 L120.70,723.20 L120.70,735.90 L72.20,735.90 Q69.70,735.90 69.70,733.40 L69.70,725.70 Q69.70,723.20 72.20,723.20 Z" fill="url(#sv4)"/>
<path d="M120.60,723.40 L193.10,723.40 L193.10,735.80 L120.60,735.80 Z" fill="url(#bl2)" />
<clipPath id="c21"><rect x="120.6" y="723.4" width="72.5" height="12.4"/></clipPath>
<path d="M120.60,728.50 L126.00,728.50 L131.00,731.50 L120.60,731.50 Z" fill="#14307a" opacity="0.6"/>
<path d="M87.00,723.40 L89.00,723.40 L106.00,735.80 L104.00,735.80 Z" fill="#10307a" opacity="0.85" clip-path="url(#c21)"/><path d="M94.60,723.40 L96.60,723.40 L113.60,735.80 L111.60,735.80 Z" fill="#10307a" opacity="0.85" clip-path="url(#c21)"/><path d="M102.20,723.40 L104.20,723.40 L121.20,735.80 L119.20,735.80 Z" fill="#10307a" opacity="0.85" clip-path="url(#c21)"/><path d="M109.80,723.40 L111.80,723.40 L128.80,735.80 L126.80,735.80 Z" fill="#10307a" opacity="0.85" clip-path="url(#c21)"/><path d="M117.40,723.40 L119.40,723.40 L136.40,735.80 L134.40,735.80 Z" fill="#10307a" opacity="0.85" clip-path="url(#c21)"/><path d="M125.00,723.40 L127.00,723.40 L144.00,735.80 L142.00,735.80 Z" fill="#10307a" opacity="0.85" clip-path="url(#c21)"/><path d="M132.60,723.40 L134.60,723.40 L151.60,735.80 L149.60,735.80 Z" fill="#10307a" opacity="0.85" clip-path="url(#c21)"/><path d="M140.20,723.40 L142.20,723.40 L159.20,735.80 L157.20,735.80 Z" fill="#10307a" opacity="0.85" clip-path="url(#c21)"/><path d="M147.80,723.40 L149.80,723.40 L166.80,735.80 L164.80,735.80 Z" fill="#10307a" opacity="0.85" clip-path="url(#c21)"/><path d="M155.40,723.40 L157.40,723.40 L174.40,735.80 L172.40,735.80 Z" fill="#10307a" opacity="0.85" clip-path="url(#c21)"/><path d="M163.00,723.40 L165.00,723.40 L182.00,735.80 L180.00,735.80 Z" fill="#10307a" opacity="0.85" clip-path="url(#c21)"/><path d="M170.60,723.40 L172.60,723.40 L189.60,735.80 L187.60,735.80 Z" fill="#10307a" opacity="0.85" clip-path="url(#c21)"/><path d="M178.20,723.40 L180.20,723.40 L197.20,735.80 L195.20,735.80 Z" fill="#10307a" opacity="0.85" clip-path="url(#c21)"/><path d="M185.80,723.40 L187.80,723.40 L204.80,735.80 L202.80,735.80 Z" fill="#10307a" opacity="0.85" clip-path="url(#c21)"/><path d="M193.40,723.40 L195.40,723.40 L212.40,735.80 L210.40,735.80 Z" fill="#10307a" opacity="0.85" clip-path="url(#c21)"/>
<path d="M89.20,723.40 L90.60,723.40 L107.60,735.80 L106.20,735.80 Z" fill="#60d0f8" opacity="0.5" clip-path="url(#c21)"/><path d="M96.80,723.40 L98.20,723.40 L115.20,735.80 L113.80,735.80 Z" fill="#60d0f8" opacity="0.5" clip-path="url(#c21)"/><path d="M104.40,723.40 L105.80,723.40 L122.80,735.80 L121.40,735.80 Z" fill="#60d0f8" opacity="0.5" clip-path="url(#c21)"/><path d="M112.00,723.40 L113.40,723.40 L130.40,735.80 L129.00,735.80 Z" fill="#60d0f8" opacity="0.5" clip-path="url(#c21)"/><path d="M119.60,723.40 L121.00,723.40 L138.00,735.80 L136.60,735.80 Z" fill="#60d0f8" opacity="0.5" clip-path="url(#c21)"/><path d="M127.20,723.40 L128.60,723.40 L145.60,735.80 L144.20,735.80 Z" fill="#60d0f8" opacity="0.5" clip-path="url(#c21)"/><path d="M134.80,723.40 L136.20,723.40 L153.20,735.80 L151.80,735.80 Z" fill="#60d0f8" opacity="0.5" clip-path="url(#c21)"/><path d="M142.40,723.40 L143.80,723.40 L160.80,735.80 L159.40,735.80 Z" fill="#60d0f8" opacity="0.5" clip-path="url(#c21)"/><path d="M150.00,723.40 L151.40,723.40 L168.40,735.80 L167.00,735.80 Z" fill="#60d0f8" opacity="0.5" clip-path="url(#c21)"/><path d="M157.60,723.40 L159.00,723.40 L176.00,735.80 L174.60,735.80 Z" fill="#60d0f8" opacity="0.5" clip-path="url(#c21)"/><path d="M165.20,723.40 L166.60,723.40 L183.60,735.80 L182.20,735.80 Z" fill="#60d0f8" opacity="0.5" clip-path="url(#c21)"/><path d="M172.80,723.40 L174.20,723.40 L191.20,735.80 L189.80,735.80 Z" fill="#60d0f8" opacity="0.5" clip-path="url(#c21)"/><path d="M180.40,723.40 L181.80,723.40 L198.80,735.80 L197.40,735.80 Z" fill="#60d0f8" opacity="0.5" clip-path="url(#c21)"/><path d="M188.00,723.40 L189.40,723.40 L206.40,735.80 L205.00,735.80 Z" fill="#60d0f8" opacity="0.5" clip-path="url(#c21)"/><path d="M195.60,723.40 L197.00,723.40 L214.00,735.80 L212.60,735.80 Z" fill="#60d0f8" opacity="0.5" clip-path="url(#c21)"/>
</svg>
<div class="code" style="top:100.30px">G8B59</div>
<div class="desc" style="top:102.60px">4 FLUTE STUB LENGTH CORNER RADIUS HIGH FEED</div>
<div class="sz" style="left:462.8px;top:103.70px">D2.0</div>
<div class="sz" style="left:487.4px;top:103.70px">D12.0</div>
<div class="code" style="top:129.95px">G8B54</div>
<div class="desc" style="top:132.25px">4 FLUTE STUB LENGTH CORNER RADIUS HIGH FEED (Long Shank)</div>
<div class="sz" style="left:462.8px;top:133.35px">D2.0</div>
<div class="sz" style="left:487.4px;top:133.35px">D16.0</div>
<div class="code" style="top:159.60px">G8A46</div>
<div class="desc" style="top:161.90px">2 FLUTE BALL NOSE FOR RIB PROCESSING</div>
<div class="sz" style="left:462.8px;top:163.00px">R0.05</div>
<div class="sz" style="left:487.4px;top:163.00px">R2.0</div>
<div class="code" style="top:189.25px">G8A54</div>
<div class="desc" style="top:191.55px">2 FLUTE BALL NOSE FOR RIB PROCESSING</div>
<div class="sz" style="left:462.8px;top:192.65px">R0.25</div>
<div class="sz" style="left:487.4px;top:192.65px">R1.0</div>
<div class="code" style="top:218.90px">G8A28</div>
<div class="desc" style="top:221.20px">2 FLUTE BALL NOSE</div>
<div class="sz" style="left:462.8px;top:222.30px">R0.05</div>
<div class="sz" style="left:487.4px;top:222.30px">R6.0</div>
<div class="code" style="top:248.55px">G8A38</div>
<div class="desc" style="top:250.85px;transform:scaleX(0.766)">2 FLUTE STUB LENGTH BALL NOSE WITH EXTENDED NECK</div>
<div class="sz" style="left:462.8px;top:251.95px">R0.5</div>
<div class="sz" style="left:487.4px;top:251.95px">R12.5</div>
<div class="code" style="top:278.20px">G8A53</div>
<div class="desc" style="top:280.50px">2 FLUTE MINIATURE BALL NOSE</div>
<div class="sz" style="left:462.8px;top:281.60px">R0.2</div>
<div class="sz" style="left:487.4px;top:281.60px">R1.0</div>
<div class="code" style="top:307.85px">G8A59</div>
<div class="desc" style="top:310.15px">3 FLUTE BALL NOSE - CENTER MATCH</div>
<div class="sz" style="left:462.8px;top:311.25px">R1.5</div>
<div class="sz" style="left:487.4px;top:311.25px">R10.0</div>
<div class="code" style="top:337.50px">G8D62</div>
<div class="desc" style="top:339.80px">4 FLUTE BALL NOSE - CENTER MATCH</div>
<div class="sz" style="left:462.8px;top:340.90px">R1.5</div>
<div class="sz" style="left:487.4px;top:340.90px">R10.0</div>
<div class="code" style="top:367.15px">G8A60</div>
<div class="desc" style="top:369.45px">2 FLUTE CORNER RADIUS FOR RIB PROCESSING</div>
<div class="sz" style="left:462.8px;top:370.55px">D0.5</div>
<div class="sz" style="left:487.4px;top:370.55px">D12.0</div>
<div class="code" style="top:396.80px">G8A36</div>
<div class="desc" style="top:399.10px;transform:scaleX(0.764)">2 FLUTE STUB LENGTH&nbsp; CORNER RADIUS WITH EXTENDED NECK</div>
<div class="sz" style="left:462.8px;top:400.20px">D0.3</div>
<div class="sz" style="left:487.4px;top:400.20px">D20.0</div>
<div class="code" style="top:426.45px">G8A52</div>
<div class="desc" style="top:428.75px">2 FLUTE CORNER RADIUS FOR RIB PROCESSING</div>
<div class="sz" style="left:462.8px;top:429.85px">D0.5</div>
<div class="sz" style="left:487.4px;top:429.85px">D2.0</div>
<div class="code" style="top:456.10px">G8A50</div>
<div class="desc" style="top:458.40px">2 FLUTE MINIATURE CORNER RADIUS</div>
<div class="sz" style="left:462.8px;top:459.50px">D0.3</div>
<div class="sz" style="left:487.4px;top:459.50px">D2.0</div>
<div class="code" style="top:485.75px">G8A47</div>
<div class="desc" style="top:488.05px">4 FLUTE CORNER RADIUS WITH EXTENDED NECK</div>
<div class="sz" style="left:462.8px;top:489.15px">D3.0</div>
<div class="sz" style="left:487.4px;top:489.15px">D12.0</div>
<div class="code" style="top:515.40px">G8A37</div>
<div class="desc" style="top:517.70px;transform:scaleX(0.766)">4 FLUTE STUB LENGTH CORNER RADIUS WITH EXTENDED NECK</div>
<div class="sz" style="left:462.8px;top:518.80px">D1.0</div>
<div class="sz" style="left:487.4px;top:518.80px">D20.0</div>
<div class="code" style="top:545.05px">G8B08</div>
<div class="desc" style="top:547.35px">4 FLUTE CORNER RADIUS WITH EXTENDED NECK</div>
<div class="sz" style="left:462.8px;top:548.45px">D6.0</div>
<div class="sz" style="left:487.4px;top:548.45px">D12.0</div>
<div class="code" style="top:574.70px">G8A39</div>
<div class="desc" style="top:577.00px;transform:scaleX(0.784)">6 FLUTE 45&deg; HELIX CORNER RADIUS WITH EXTENDED NECK</div>
<div class="sz" style="left:462.8px;top:578.10px">D6.0</div>
<div class="sz" style="left:487.4px;top:578.10px">D20.0</div>
<div class="code" style="top:604.35px">G8A45</div>
<div class="desc" style="top:606.65px">2 FLUTE FOR RIB PROCESSING</div>
<div class="sz" style="left:462.8px;top:607.75px">D0.1</div>
<div class="sz" style="left:487.4px;top:607.75px">D4.0</div>
<div class="code" style="top:634.00px">G8A01</div>
<div class="desc" style="top:636.30px">2 FLUTE WITH EXTENDED NECK</div>
<div class="sz" style="left:462.8px;top:637.40px">D0.1</div>
<div class="sz" style="left:487.4px;top:637.40px">D20.0</div>
<div class="code" style="top:663.65px">G8A02</div>
<div class="desc" style="top:665.95px">4 FLUTE WITH EXTENDED NECK</div>
<div class="sz" style="left:462.8px;top:667.05px">D1.0</div>
<div class="sz" style="left:487.4px;top:667.05px">D20.0</div>
<div class="code" style="top:693.30px">G8D63</div>
<div class="desc" style="top:695.60px">6&amp;8 FLUTE 45&deg; HELIX LONG LENGTH</div>
<div class="sz" style="left:462.8px;top:696.70px">D6.0</div>
<div class="sz" style="left:487.4px;top:696.70px">D25.0</div>
<div class="code" style="top:722.95px">G8D64</div>
<div class="desc" style="top:725.25px">6&amp;8 FLUTE 45&deg; HELIX EXTRA LONG LENGTH</div>
<div class="sz" style="left:462.8px;top:726.35px">D6.0</div>
<div class="sz" style="left:487.4px;top:726.35px">D25.0</div>
</body></html>
